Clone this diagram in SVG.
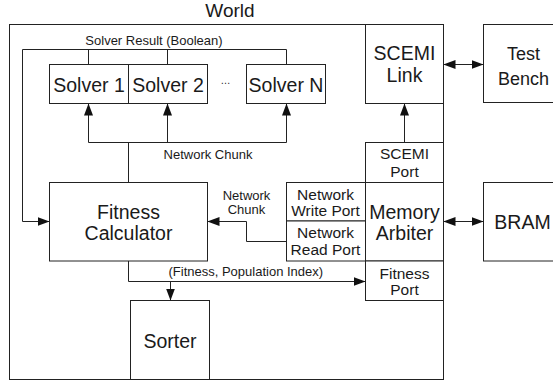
<svg xmlns="http://www.w3.org/2000/svg" width="553" height="383" viewBox="0 0 553 383">
  <style>
    .box { fill: #fff; stroke: #222; stroke-width: 1; }
    .wire { fill: none; stroke: #222; stroke-width: 1; }
    text { font-family: "Liberation Sans", Arial, sans-serif; fill: #1a1a1a; text-anchor: middle; }
    .big { font-size: 19.5px; }
    .mid { font-size: 15.5px; }
    .small { font-size: 13px; }
  </style>
  <defs>
    <marker id="arrow" markerUnits="userSpaceOnUse" markerWidth="12" markerHeight="10" refX="12" refY="4.5" orient="auto-start-reverse" viewBox="0 0 12 9">
      <path d="M0,0 L12,4.5 L0,9 Z" fill="#111"/>
    </marker>
  </defs>

  <rect width="553" height="383" fill="#fff"/>

  <!-- outer world boundary -->
  <g id="world">
    <rect class="box" x="9.5" y="24.5" width="434" height="355"/>
    <text class="big" x="230" y="17" style="font-size:19px">World</text>
  </g>

  <g id="solver1">
    <rect class="box" x="49.5" y="64.5" width="79" height="39"/>
    <text class="big" x="89" y="91.5">Solver 1</text>
  </g>
  <g id="solver2">
    <rect class="box" x="128.5" y="64.5" width="79" height="39"/>
    <text class="big" x="168" y="91.5">Solver 2</text>
  </g>
  <g id="ellipsis">
    <text x="225.5" y="84" style="font-size:10px">…</text>
  </g>
  <g id="solverN">
    <rect class="box" x="246.5" y="64.5" width="79" height="39"/>
    <text class="big" x="286" y="91.5">Solver N</text>
  </g>

  <g id="fitness-calculator">
    <rect class="box" x="49.5" y="182.5" width="158" height="78.5"/>
    <text class="big" x="128.5" y="218.5">Fitness</text>
    <text class="big" x="128.5" y="240">Calculator</text>
  </g>

  <g id="sorter">
    <rect class="box" x="130.5" y="300.5" width="79" height="79"/>
    <text class="big" x="170" y="347.5">Sorter</text>
  </g>

  <g id="scemi-link">
    <rect class="box" x="365.5" y="24.5" width="78" height="79"/>
    <text class="big" x="404.5" y="60">SCEMI</text>
    <text class="big" x="404.5" y="81.5">Link</text>
  </g>

  <g id="scemi-port">
    <rect class="box" x="365.5" y="142.5" width="78" height="40"/>
    <text class="mid" x="404.5" y="158.5">SCEMI</text>
    <text class="mid" x="404.5" y="177">Port</text>
  </g>

  <g id="memory-arbiter">
    <rect class="box" x="365.5" y="182.5" width="78" height="78.5"/>
    <text class="big" x="404.5" y="218.5">Memory</text>
    <text class="big" x="404.5" y="240">Arbiter</text>
  </g>

  <g id="network-write-port">
    <rect class="box" x="286.5" y="182.5" width="79" height="38.5"/>
    <text class="mid" x="325.5" y="199.5">Network</text>
    <text class="mid" x="325.5" y="216">Write Port</text>
  </g>

  <g id="network-read-port">
    <rect class="box" x="286.5" y="221" width="79" height="40"/>
    <text class="mid" x="325.5" y="238">Network</text>
    <text class="mid" x="325.5" y="255">Read Port</text>
  </g>

  <g id="fitness-port">
    <rect class="box" x="365.5" y="261" width="78" height="39.5"/>
    <text class="mid" x="404.5" y="278.5">Fitness</text>
    <text class="mid" x="404.5" y="294.5">Port</text>
  </g>

  <g id="test-bench">
    <rect class="box" x="483.5" y="24.5" width="80" height="78"/>
    <text class="big" x="523.5" y="60" style="font-size:18px">Test</text>
    <text class="big" x="523.5" y="85" style="font-size:18px">Bench</text>
  </g>

  <g id="bram">
    <rect class="box" x="483.5" y="182.5" width="80" height="78.5"/>
    <text class="big" x="522.5" y="228.5">BRAM</text>
  </g>

  <g id="connectors">
    <!-- solver results back to the fitness calculator -->
    <path class="wire" d="M88.5,64.5 V49.5 M167.5,64.5 V49.5 M286.5,64.5 V49.5 H22.5 V221.5 H49.5" marker-end="url(#arrow)"/>
    <!-- network chunk fan-out to the solvers -->
    <path class="wire" d="M128.5,182.5 V142.5 M88.5,142.5 H286.5"/>
    <path class="wire" d="M88.5,142.5 V103.5" marker-end="url(#arrow)"/>
    <path class="wire" d="M167.5,142.5 V103.5" marker-end="url(#arrow)"/>
    <path class="wire" d="M286.5,142.5 V103.5" marker-end="url(#arrow)"/>
    <!-- read port back to the fitness calculator -->
    <path class="wire" d="M286.5,241.5 H246.5 V221.5 H207.5" marker-end="url(#arrow)"/>
    <!-- fitness results -->
    <path class="wire" d="M128.5,261 V281.5 H365.5" marker-end="url(#arrow)"/>
    <path class="wire" d="M170.5,281.5 V300.5" marker-end="url(#arrow)"/>
    <!-- SCEMI port up to link -->
    <path class="wire" d="M404.5,142.5 V103.5" marker-end="url(#arrow)"/>
    <!-- external links -->
    <path class="wire" d="M443.5,64.5 H483.5" marker-start="url(#arrow)" marker-end="url(#arrow)"/>
    <path class="wire" d="M443.5,221.5 H483.5" marker-start="url(#arrow)" marker-end="url(#arrow)"/>

    <text class="small" x="154" y="44.5">Solver Result (Boolean)</text>
    <text class="small" x="208" y="158.5">Network Chunk</text>
    <text class="small" x="246.5" y="200">Network</text>
    <text class="small" x="246.5" y="214">Chunk</text>
    <text class="small" x="168.5" y="276" style="text-anchor:start">(Fitness, Population Index)</text>
  </g>
</svg>
